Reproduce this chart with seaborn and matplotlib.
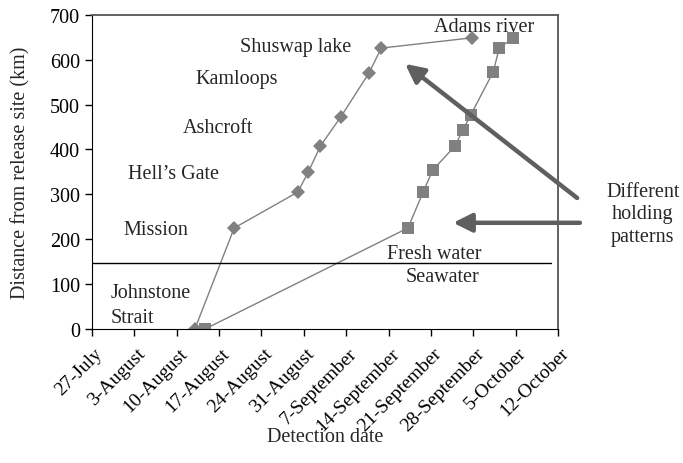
"""
Salmon migration: detection date vs distance from release site
"""

import pandas as pd
import matplotlib.pyplot as plt
import matplotlib.transforms as mtransforms
import seaborn as sns

# Fish with the early holding pattern (diamonds)
early_dates = ["2009-08-13 00:00", "2009-08-19 12:00", "2009-08-30 00:00",
               "2009-08-31 18:00", "2009-09-02 18:00", "2009-09-06 03:00",
               "2009-09-10 19:00", "2009-09-12 19:00", "2009-09-27 19:00"]
early_dist = [0, 225, 305, 350, 408, 473, 571, 626, 649]

# Fish with the late holding pattern (squares)
late_dates = ["2009-08-14 17:00", "2009-09-17 05:00", "2009-09-19 17:00",
              "2009-09-21 07:00", "2009-09-25 00:00", "2009-09-26 07:00",
              "2009-09-27 14:00", "2009-10-01 07:00", "2009-10-02 07:00",
              "2009-10-04 14:00"]
late_dist = [0, 225, 305, 354, 408, 444, 477, 573, 626, 649]

tick_dates = pd.date_range("2009-07-27", "2009-10-12", freq="7D")
tick_labels = ["27-July", "3-August", "10-August", "17-August", "24-August",
               "31-August", "7-September", "14-September", "21-September",
               "28-September", "5-October", "12-October"]

boundary_km = 147

early = pd.DataFrame({"date": pd.to_datetime(early_dates), "dist": early_dist})
late = pd.DataFrame({"date": pd.to_datetime(late_dates), "dist": late_dist})

sns.set_style("ticks")
plt.rcParams['font.family'] = ['Liberation Serif', 'DejaVu Serif']
plt.rcParams['font.size'] = 14.5

fig = plt.figure(figsize=(6.83, 4.64), dpi=100)
ax = fig.add_axes([0.1347, 0.289, 0.6823, 0.6767])

line_kw = dict(color="#808080", linewidth=1, markeredgewidth=0)
sns.lineplot(data=early, x="date", y="dist", marker="D", markersize=7.5,
             sort=False, ax=ax, **line_kw)
sns.lineplot(data=late, x="date", y="dist", marker="s", markersize=8.5,
             sort=False, ax=ax, **line_kw)

ax.axhline(boundary_km, xmin=0, xmax=0.985, color="black", linewidth=1)

ax.set_xlim(tick_dates[0], tick_dates[-1])
ax.set_ylim(0, 700)
ax.set_yticks(range(0, 701, 100))
ax.set_xticks(tick_dates)
ax.set_xticklabels(tick_labels, rotation=45, ha="right", rotation_mode="anchor")
ax.tick_params(direction="out", length=5, width=1, colors="black", labelsize=14.5)
ax.tick_params(axis="x", pad=6, labelsize=14)
# nudge the rotated date labels a little to the right, as in the original
shift = mtransforms.ScaledTranslation(2 / 100, 0, fig.dpi_scale_trans)
for lab in ax.get_xticklabels():
    lab.set_transform(lab.get_transform() + shift)
ax.set_xlabel("Detection date", fontsize=14.5, labelpad=-5)
ax.set_ylabel("Distance from release site (km)", fontsize=14.5, labelpad=14)

for side in ["left", "bottom"]:
    ax.spines[side].set_color("black")
for side in ["top", "right"]:
    ax.spines[side].set_visible(True)
    ax.spines[side].set_color("#555555")
    ax.spines[side].set_linewidth(1.3)

# site labels
labels = [("Adams river", 0.841, 0.962),
          ("Shuswap lake", 0.438, 0.898),
          ("Kamloops", 0.311, 0.796),
          ("Ashcroft", 0.270, 0.640),
          ("Hell\u2019s Gate", 0.174, 0.494),
          ("Mission", 0.137, 0.315),
          ("Fresh water", 0.734, 0.239),
          ("Seawater", 0.753, 0.166)]
for txt, x, y in labels:
    ax.text(x, y, txt, transform=ax.transAxes, ha="center", va="center",
            fontsize=14.5)

ax.text(0.039, 0.076, "Johnstone\nStrait", transform=ax.transAxes,
        ha="left", va="center", fontsize=14.5, linespacing=1.45)
ax.text(1.182, 0.366, "Different\nholding\npatterns", transform=ax.transAxes,
        ha="center", va="center", fontsize=14.5, linespacing=1.25)

arrow_kw = dict(arrowstyle="-|>", color="#5f5f5f", lw=3.2, mutation_scale=28,
                shrinkA=0, shrinkB=0)
ax.annotate("", xy=(0.672, 0.844), xytext=(1.041, 0.417),
            xycoords="axes fraction", textcoords="axes fraction",
            arrowprops=arrow_kw, annotation_clip=False)
ax.annotate("", xy=(0.775, 0.338), xytext=(1.047, 0.338),
            xycoords="axes fraction", textcoords="axes fraction",
            arrowprops=arrow_kw, annotation_clip=False)

plt.savefig("out.png", dpi=100)
